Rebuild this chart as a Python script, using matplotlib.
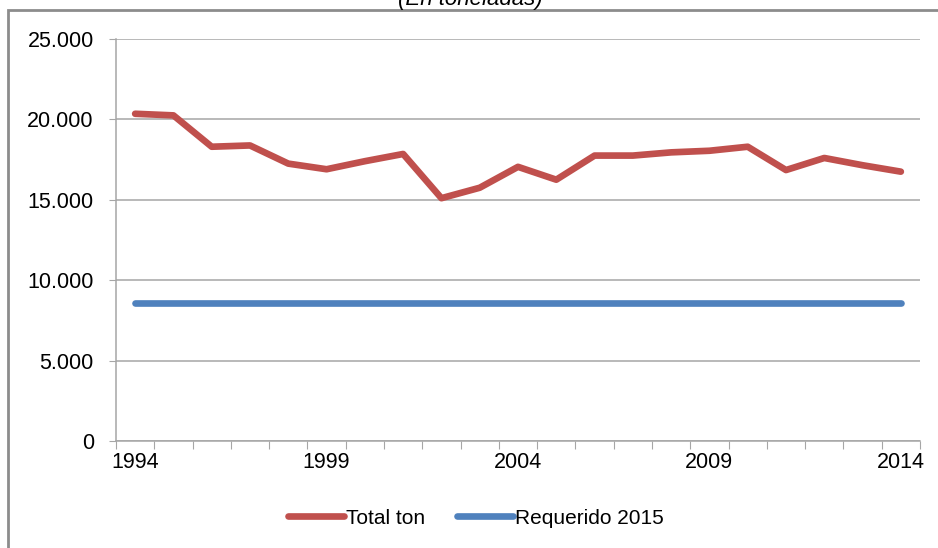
import matplotlib
matplotlib.use("Agg")
import matplotlib.pyplot as plt
from matplotlib.patches import Rectangle
from matplotlib.ticker import FuncFormatter

plt.rcParams["font.family"] = ["Liberation Sans", "DejaVu Sans"]

years = list(range(1994, 2015))
total_ton = [20350, 20250, 18300, 18380, 17250, 16900, 17400, 17850, 15100, 15750,
             17050, 16250, 17750, 17750, 17950, 18050, 18300, 16850, 17600, 17150, 16750]
requerido = [8600] * len(years)
year_labels = ["1994", "1999", "2004", "2009", "2014"]

RED = "#C0504D"
BLUE = "#4F81BD"
GRID = "#A6A6A6"

W, H = 938, 548
fig = plt.figure(figsize=(W / 100, H / 100), dpi=100)
ax = fig.add_axes([116 / W, (H - 441) / H, (920 - 116) / W, (441 - 39) / H])

x = list(range(len(years)))
ax.plot(x, total_ton, color=RED, lw=4.8, solid_capstyle="round",
        solid_joinstyle="round", label="Total ton")
ax.plot(x, requerido, color=BLUE, lw=4.8, solid_capstyle="round",
        label="Requerido 2015")

ax.set_xlim(-0.5, len(years) - 0.5)
ax.set_ylim(0, 25000)
ax.set_yticks(range(0, 25001, 5000))
ax.yaxis.set_major_formatter(FuncFormatter(lambda v, p: f"{int(v):,}".replace(",", ".")))
ax.grid(axis="y", color=GRID, lw=1.1)
ax.set_axisbelow(True)

# category axis: tick marks between categories, labels every 5 years
ax.set_xticks([i - 0.5 for i in range(len(years) + 1)])
ax.set_xticklabels([])
ax.set_xticks([years.index(int(y)) for y in year_labels], year_labels, minor=True)
ax.tick_params(axis="x", which="major", length=6, color=GRID, direction="out")
ax.tick_params(axis="x", which="minor", length=0, pad=8, labelsize=15.5)
ax.tick_params(axis="y", length=5, color=GRID, labelsize=15.5, pad=11)

for s in ("top", "right"):
    ax.spines[s].set_visible(False)
for s in ("left", "bottom"):
    ax.spines[s].set_color(GRID)
    ax.spines[s].set_linewidth(1.1)

fig.legend(loc="center", bbox_to_anchor=(476 / W, 1 - 518 / H), ncol=2,
           frameon=False, fontsize=15, handlelength=2.7, handletextpad=0.1,
           columnspacing=1.5)

fig.text(470 / W, 1 - 5 / H, "(En toneladas)", ha="center", va="baseline",
         fontsize=16, style="italic")

fig.patches.append(Rectangle((8 / W, -0.02), 1.0, 1 - 10 / H + 0.02,
                             transform=fig.transFigure, fill=False,
                             edgecolor="#8C8C8C", lw=2))

fig.savefig("out.png", dpi=100)
